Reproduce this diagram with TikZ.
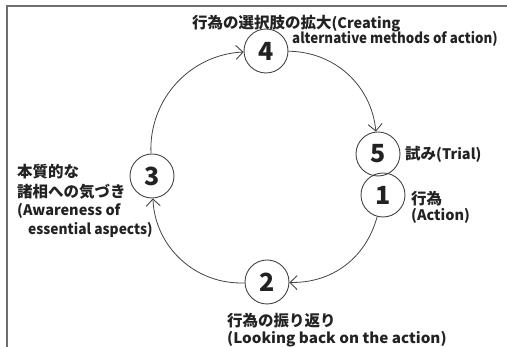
\documentclass[tikz,border=0pt]{standalone}
\usepackage{fontspec}
\setmainfont{Noto Sans CJK JP}
\usetikzlibrary{arrows.meta}
\definecolor{ink}{HTML}{222222}
\definecolor{linec}{HTML}{444444}
\definecolor{framec}{HTML}{6E6E6E}
\newcommand\jtxt[1]{{\fontsize{15.5}{15.5}\selectfont #1}}
\begin{document}
\begin{tikzpicture}[x=1pt,y=1pt,
  stepnode/.style={circle,draw=linec,line width=0.9pt,minimum size=44pt,inner sep=0pt,font=\bfseries\fontsize{25}{25}\selectfont,text=ink},
  lbl/.style={anchor=base west,inner sep=0pt,font=\bfseries\fontsize{14.5}{14.5}\selectfont,text=ink},
  flow/.style={draw=linec,line width=0.8pt,-{Straight Barb[length=7pt,width=14pt,line width=0.9pt]}}]
\useasboundingbox (0,0) rectangle (507,347);
\draw[framec,line width=1.4pt] (7,0) -- (7,341) -- (507,341);
% nodes
\node[stepnode] (n4) at (266,296) {4};
\node[stepnode] (n5) at (378,193) {5};
\node[stepnode] (n1) at (383,152) {1};
\node[stepnode] (n2) at (267,65) {2};
\node[stepnode] (n3) at (152,171) {3};
% connectors
\draw[flow] (n4) to[bend left=42] (n5);
\draw[flow] (n1) to[bend left=38] (n2);
\draw[flow] (n2) to[bend left=45] (n3);
\draw[flow] (n3) to[bend left=45] (n4);
% labels
\node[lbl] (l4a) at (192,318) {\jtxt{行為の選択肢の拡大}(Creating};
\node[lbl,xscale=0.92,transform shape] (l4b) at (292,303) {alternative methods of action)};
\node[lbl] (l5) at (405,187) {\jtxt{試み}(Trial)};
\node[lbl] (l1a) at (411,142) {\jtxt{行為}};
\node[lbl] (l1b) at (411,126) {(Action)};
\node[lbl] (l3a) at (17,169) {\jtxt{本質的な}};
\node[lbl] (l3b) at (17,149) {\jtxt{諸相への気づき}};
\node[lbl] (l3c) at (17,131) {(Awareness of};
\node[lbl,xscale=0.95,transform shape] (l3d) at (28,112) {essential aspects)};
\node[lbl] (l2a) at (227,20) {\jtxt{行為の振り返り}};
\node[lbl,xscale=1.05,transform shape] (l2b) at (227,3) {(Looking back on the action)};
\end{tikzpicture}
\end{document}
